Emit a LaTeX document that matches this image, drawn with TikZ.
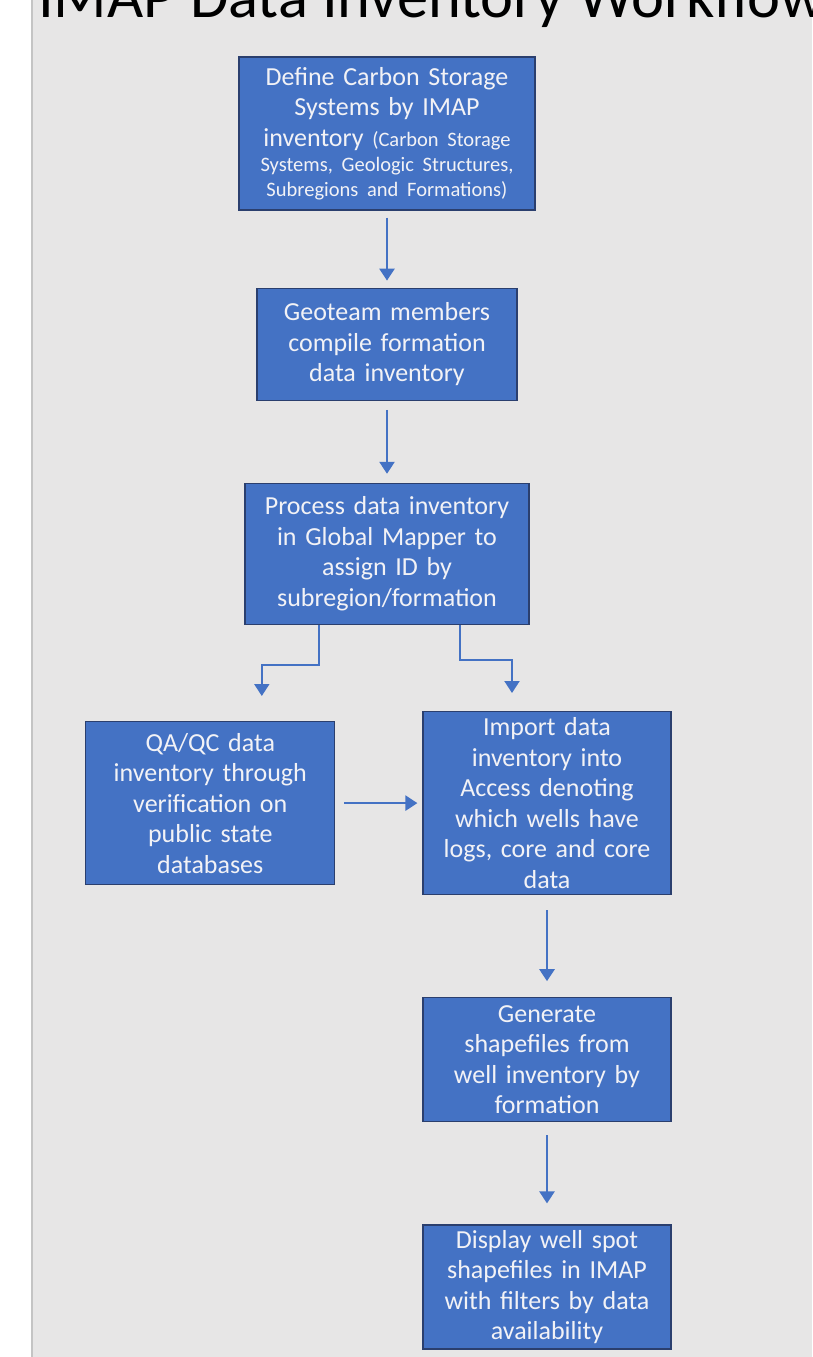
\documentclass[tikz,border=0pt]{standalone}
\usepackage{fontspec}
\setmainfont{Carlito}
\usetikzlibrary{arrows.meta, positioning}

\definecolor{boxblue}{HTML}{4472C4}
\definecolor{boxedge}{HTML}{2B3F6E}
\definecolor{boxtext}{HTML}{F2F2F6}
\definecolor{slide}{HTML}{E7E6E6}
\definecolor{slideedge}{HTML}{C4C4C4}

\begin{document}
\begin{tikzpicture}[
    x=1pt, y=1pt,
    block/.style 2 args={rectangle, draw=boxedge, line width=1.2pt, fill=boxblue, text=boxtext, text width=#1, minimum width=#1, minimum height=#2, text centered, inner sep=0pt, font=\fontsize{26}{30.5}\selectfont},
    line/.style={draw=boxblue, line width=2.5pt, -{Triangle[width=15pt, length=12pt]}},
    elbow/.style={line, line width=2pt},
    title/.style={anchor=base west, inner sep=0pt, font=\fontsize{62.5}{75}\selectfont}
]
\useasboundingbox (0,0) rectangle (812,-1357);

% Slide background
\fill[white] (0,0) rectangle (812,-1357);
\fill[slide] (32,0) rectangle (812,-1357);
\draw[slideedge, line width=1.5pt] (32,0) -- (32,-1357);

\node[title] (heading) at (38,-17) {IMAP Data Inventory Workflow};

% Main column
\node[block={296pt}{153pt}] (define) at (387,-133.5) {Define Carbon Storage\\ Systems by IMAP\\ inventory {\fontsize{20.5}{25}\selectfont (Carbon Storage}\par
    \fontsize{20.5}{25}\selectfont Systems, Geologic Structures,\\ Subregions and Formations)\par};
\node[block={260pt}{112pt}, below=77pt of define] (geoteam) {Geoteam members\\ compile formation\\ data inventory};
\node[block={284pt}{141pt}, below=82pt of geoteam] (process) {Process data inventory\\ in Global Mapper to\\ assign ID by\\ subregion/formation};

% Split into two branches
\node[block={248pt}{183pt}, below=86pt of process, xshift=160pt] (import) {Import data\\ inventory into\\ Access denoting\\ which wells have\\ logs, core and core\\ data};
\node[block={249pt}{163pt}, left=87pt of import] (qaqc) {QA/QC data\\ inventory through\\ verification on\\ public state\\ databases};
\node[block={248pt}{124pt}, below=102pt of import] (generate) {Generate\\ shapefiles from\\ well inventory by\\ formation};
\node[block={248pt}{124pt}, below=102pt of generate] (display) {Display well spot\\ shapefiles in IMAP\\ with filters by data\\ availability};

% Connectors
\path[line, shorten <=7pt, shorten >=7pt] (define) -- (geoteam);
\path[line, shorten <=9pt, shorten >=9pt] (geoteam) -- (process);
\path[elbow] ([xshift=-68pt]process.south) -- ++(0,-40) -| ([xshift=51.5pt, yshift=25pt]qaqc.north);
\path[elbow] ([xshift=73pt]process.south) -- ++(0,-35) -| ([xshift=-35pt, yshift=18pt]import.north);
\path[line, shorten <=9pt, shorten >=5pt] (qaqc) -- (import);
\path[line, shorten <=15pt, shorten >=16pt] (import) -- (generate);
\path[line, shorten <=13pt, shorten >=21pt] (generate) -- (display);

\end{tikzpicture}
\end{document}
